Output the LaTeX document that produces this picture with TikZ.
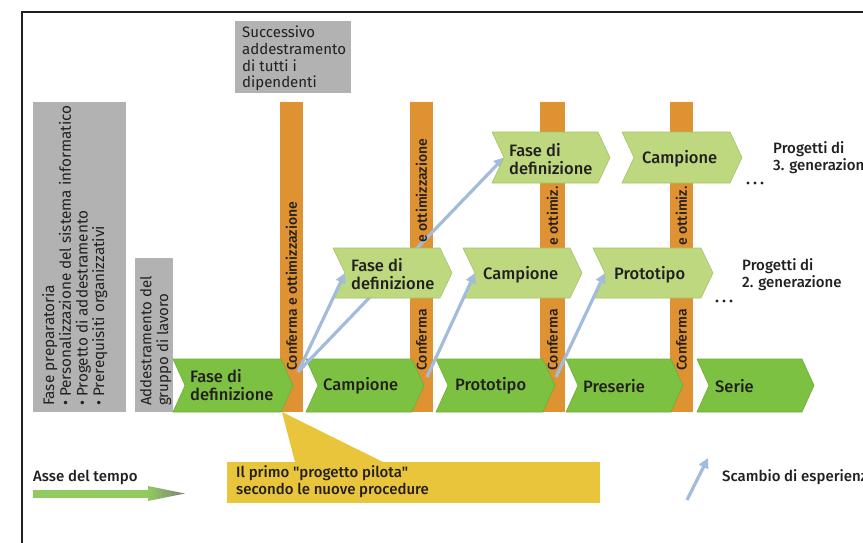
\documentclass[tikz,border=0pt]{standalone}
\usepackage{fontspec}
\setmainfont{Fira Sans}[BoldFont={Fira Sans Medium},Ligatures=TeXOff]
\usetikzlibrary{arrows.meta}
\definecolor{barorange}{HTML}{DE9232}
\definecolor{boxgray}{HTML}{B2B2B2}
\definecolor{darkgreen}{HTML}{7DC142}
\definecolor{darkgreenedge}{HTML}{6DAE38}
\definecolor{lightgreen}{HTML}{BDD87E}
\definecolor{lightgreenedge}{HTML}{A5C468}
\definecolor{calloutyellow}{HTML}{E9C53C}
\definecolor{exchblue}{HTML}{A3BCDB}
\definecolor{inktext}{HTML}{231F20}
\newcommand{\chev}[6]{%
  \path[#6] (#2,#4) -- ({#3-12},#4) -- (#3,{(#4+#5)/2}) -- ({#3-12},#5) -- (#2,#5) -- ({#2+12},{(#4+#5)/2}) -- cycle;
  \coordinate (#1-notch) at ({#2+12},{(#4+#5)/2});
  \coordinate (#1-tip) at (#3,{(#4+#5)/2});
}
\begin{document}
\begin{tikzpicture}[x=1pt,y=-1pt,
  lbl/.style={text=inktext,font=\bfseries\fontsize{16.5}{18}\selectfont,inner sep=0pt,align=left,anchor=west},
  bartxt/.style={text=inktext,font=\bfseries\fontsize{14}{16}\selectfont,inner sep=0pt,rotate=90,anchor=west},
  graytxt/.style={text=inktext,font=\fontsize{15}{16.6}\selectfont,inner sep=0pt,align=left},
  prepstyle/.style={text=inktext,font=\fontsize{15.3}{16.7}\selectfont,inner sep=0pt,align=left},
  legend/.style={text=inktext,font=\bfseries\fontsize{15}{17}\selectfont,inner sep=0pt,align=left,anchor=west},
  darkchev/.style={fill=darkgreen,draw=darkgreenedge,line width=0.6pt},
  lightchev/.style={fill=lightgreen,draw=lightgreenedge,line width=0.6pt},
  exch/.style={draw=exchblue,line width=3.2pt,-{Triangle[width=10pt,length=10pt]}},
  bar/.style={fill=barorange},
  graybox/.style={fill=boxgray}
]
\useasboundingbox (0,0) rectangle (863,543);
\clip (0,0) rectangle (863,543);
\fill[white] (0,0) rectangle (863,543);
% frame
\draw[line width=1.1pt,inktext] (22,543) -- (22,12) -- (863,12);

% gray boxes
\fill[graybox] (33,102) rectangle (126,412);
\fill[graybox] (135,258) rectangle (173,412);
\fill[graybox] (235,21) rectangle (351,93);

% orange bars
\fill[bar] (280,102) rectangle (303,412);
\fill[bar] (410,102) rectangle (433,412);
\fill[bar] (540,102) rectangle (565,412);
\fill[bar] (670,102) rectangle (693,412);

% yellow callout
\fill[calloutyellow] (282,412) -- (295,462) -- (383,462) -- cycle;
\fill[calloutyellow] (227,462) rectangle (600,503);

% bottom row
\chev{b1}{173}{293}{359}{412}{darkchev}
\chev{b2}{306}{424}{359}{412}{darkchev}
\chev{b3}{436}{555}{359}{412}{darkchev}
\chev{b4}{566}{683}{359}{412}{darkchev}
\chev{b5}{697}{814}{359}{412}{darkchev}

% experience exchange arrows
\coordinate (e1) at (298,372);
\coordinate (e2) at (427,377);
\coordinate (e3) at (556,377);
\coordinate (t1-notch) at (504,157.5);
\draw[exch] (e1) -- (t1-notch);

% second generation
\chev{s1}{333}{452}{248}{298}{lightchev}
\chev{s2}{463}{582}{248}{298}{lightchev}
\chev{s3}{593}{713}{248}{298}{lightchev}

% third generation
\chev{t1}{492}{610}{132}{183}{lightchev}
\chev{t2}{622}{742}{132}{183}{lightchev}

\draw[exch] (e1) -- (s1-notch);
\draw[exch] (e2) -- (s2-notch);
\draw[exch] (e3) -- (s3-notch);

% bar texts
\node[bartxt] (c1) at (291.5,371) {Conferma e ottimizzazione};
\node[bartxt] (c2) at (421.5,371) {Conferma};
\node[bartxt] (o2) at (421.5,243) {e ottimizzazione};
\node[bartxt] (c3) at (552.5,371) {Conferma};
\node[bartxt] (o3) at (552.5,246) {e ottimiz.};
\node[bartxt] (c4) at (681.5,371) {Conferma};
\node[bartxt] (o4) at (681.5,246) {e ottimiz.};

% chevron labels
\node[lbl] (lb1) at (190,385.5) {Fase di\\definizione};
\node[lbl] (lb2) at (323,386) {Campione};
\node[lbl] (lb3) at (455,386) {Prototipo};
\node[lbl] (lb4) at (583,386) {Preserie};
\node[lbl] (lb5) at (715,386) {Serie};
\node[lbl] (ls1) at (351,274) {Fase di\\definizione};
\node[lbl] (ls2) at (483,275) {Campione};
\node[lbl] (ls3) at (614,275) {Prototipo};
\node[lbl] (lt1) at (509,159) {Fase di\\definizione};
\node[lbl] (lt2) at (642,159) {Campione};

% generation labels and dots
\node[legend] (g2) at (742,275) {Progetti di\\2. generazione};
\node[legend] (g3) at (773,158) {Progetti di\\3. generazione};
\foreach \xx in {748,755,762} \fill[inktext] (\xx,183) circle (1.7);
\foreach \xx in {717,724,731} \fill[inktext] (\xx,301) circle (1.7);

% gray box texts
\node[prepstyle,rotate=90,anchor=north west] (prep) at (42,406) {Fase preparatoria\\• Personalizzazione del sistema informatico\\• Progetto di addestramento\\• Prerequisiti organizzativi};
\node[graytxt,rotate=90,anchor=north west] (grp) at (140,406) {Addestramento del\\gruppo di lavoro};
\node[graytxt,anchor=north west] (succ) at (242,26) {Successivo\\addestramento\\di tutti i\\dipendenti};

% callout text
\node[legend,anchor=north west] (pilot) at (236,465) {Il primo "progetto pilota"\\secondo le nuove procedure};

% legend: time axis
\node[legend] (asse) at (33,477) {Asse del tempo};
\fill[darkgreen!85!white] (33,489.5) rectangle (152,497.5);
\shade[left color=darkgreen!85!white,right color=gray] (148,486) -- (185,493.5) -- (148,501) -- cycle;

% legend: experience exchange
\coordinate (lg0) at (687,500);
\coordinate (lg1) at (708,458);
\draw[exch] (lg0) -- (lg1);
\node[legend] (scambio) at (722,477) {Scambio di esperienze};
\end{tikzpicture}
\end{document}
